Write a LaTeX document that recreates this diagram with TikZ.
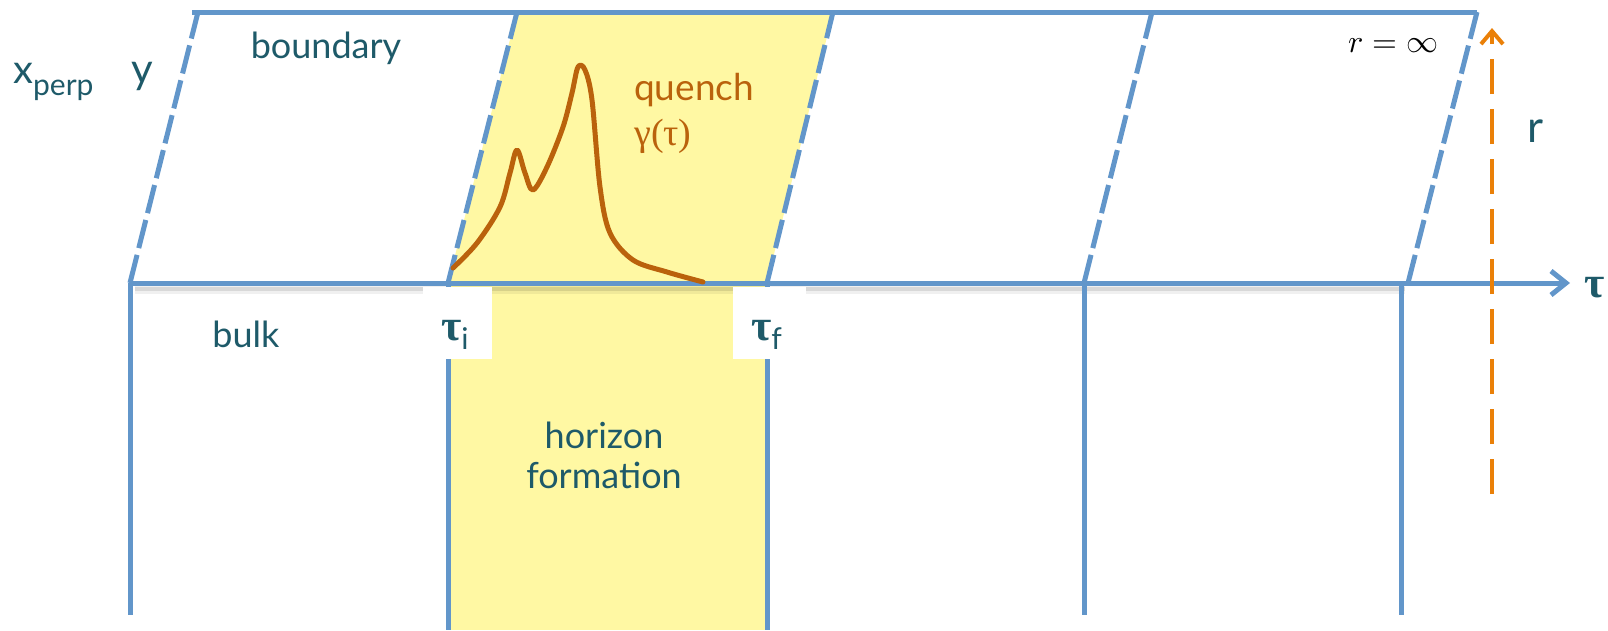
\documentclass[tikz,border=0pt]{standalone}
\usepackage{fontspec}
\setmainfont{Lato}
\newfontfamily\grk{Liberation Serif}
\usetikzlibrary{arrows.meta}
\definecolor{lineblue}{RGB}{98,150,202}
\definecolor{txtteal}{RGB}{30,90,105}
\definecolor{quenchyellow}{RGB}{255,248,163}
\definecolor{rorange}{RGB}{234,128,8}
\definecolor{quenchbrown}{RGB}{186,98,12}
\begin{document}
\begin{tikzpicture}[x=1pt,y=-1pt,
  blueline/.style={draw=lineblue, line width=5pt},
  edgedash/.style={blueline, dash pattern=on 29pt off 7pt},
  lbl/.style={text=txtteal, inner sep=0pt, font=\fontsize{36}{40}\selectfont},
  gk/.style={inner sep=0pt, font=\grk\fontsize{44}{44}\selectfont\bfseries},
]
\useasboundingbox (0,0) rectangle (1608,630);
% corners
\coordinate (b0) at (130,283); \coordinate (t0) at (198,12);
\coordinate (b1) at (448,283); \coordinate (t1) at (517,12);
\coordinate (b2) at (767,283); \coordinate (t2) at (833,12);
\coordinate (b3) at (1084,283); \coordinate (t3) at (1152,12);
\coordinate (b4) at (1408,283); \coordinate (t4) at (1477,12);
\coordinate (tl) at (192,12);
\coordinate (axend) at (1570,283);
\coordinate (v0) at (130,615); \coordinate (v1) at (448,630);
\coordinate (v2) at (767,630); \coordinate (v3) at (1084,615);
\coordinate (v4t) at (1401,283); \coordinate (v4) at (1401,615);
\coordinate (rbot) at (1492,494); \coordinate (rtop) at (1492,28);
% yellow regions
\fill[quenchyellow] (b1) -- (t1) -- (t2) -- (b2) -- cycle;
\fill[quenchyellow] (b1) rectangle (v2);
% soft shadow under the axis
\draw[black, opacity=0.06, line width=9pt] (135,289) -- (1405,289);
\draw[black, opacity=0.10, line width=4pt] (135,289) -- (1405,289);
% bulk verticals
\draw[blueline] (b0) -- (v0);
\draw[blueline] (b1) -- (v1);
\draw[blueline] (b2) -- (v2);
\draw[blueline] (b3) -- (v3);
\draw[blueline] (v4t) -- (v4);
% white label boxes
\fill[white] (423,287) rectangle (492,359);
\fill[white] (733,287) rectangle (806,359);
% boundary edges
\draw[edgedash] (b0) -- (t0);
\draw[edgedash] (b1) -- (t1);
\draw[edgedash] (b2) -- (t2);
\draw[edgedash] (b3) -- (t3);
\draw[edgedash] (b4) -- (t4);
\draw[blueline] (tl) -- (t4);
% tau axis
\draw[blueline, -{Straight Barb[length=15pt,width=24pt]}] (b0) -- (axend);
% r arrow
\draw[rorange, line width=4pt, dash pattern=on 35pt off 15pt, -{Straight Barb[length=13pt,width=22pt]}] (rbot) -- (rtop);
% quench curve
\draw[quenchbrown, line width=5pt, line cap=round, line join=round]
  plot[smooth, tension=0.55] coordinates {(453,268) (477,243) (500,207) (510,173) (517,150) (525,173) (533,190) (547,167) (563,127) (572,93) (578,67) (585,70) (592,100) (600,187) (610,233) (633,260) (667,272) (703,282)};
% labels
\node[lbl, anchor=base] (boundary) at (326,58) {boundary};
\node[lbl, anchor=base west] (xperp) at (13,83) {\fontsize{40}{40}\selectfont x\raisebox{-12pt}{\fontsize{30}{30}\selectfont perp}};
\node[lbl, anchor=base west, font=\fontsize{42}{42}\selectfont] (ylab) at (131,83) {y};
\node[lbl, anchor=base west, text=quenchbrown, font=\fontsize{37}{37}\selectfont] (quench) at (634,100) {quench};
\node[inner sep=0pt, anchor=base west, text=quenchbrown, font=\grk\fontsize{38}{38}\selectfont] (gamma) at (634,145) {γ(τ)};
\node[inner sep=0pt] (rinf) at (1393,46) {\scalebox{3.2}{$r=\infty$}};
\node[lbl, anchor=base west, font=\fontsize{44}{44}\selectfont] (rlab) at (1527,142) {r};
\node[gk, anchor=base west, text=txtteal] (taulab) at (1584,297) {τ};
\node[lbl, anchor=base] (bulk) at (246,347) {bulk};
\node[gk, anchor=base west, text=txtteal] (taui) at (441,340) {τ\raisebox{-9pt}{\normalfont\fontsize{30}{30}\selectfont i}};
\node[gk, anchor=base west, text=txtteal] (tauf) at (751,340) {τ\raisebox{-9pt}{\normalfont\fontsize{30}{30}\selectfont f}};
\node[lbl, align=center] (horizon) at (604,455) {horizon\\formation};
\end{tikzpicture}
\end{document}
